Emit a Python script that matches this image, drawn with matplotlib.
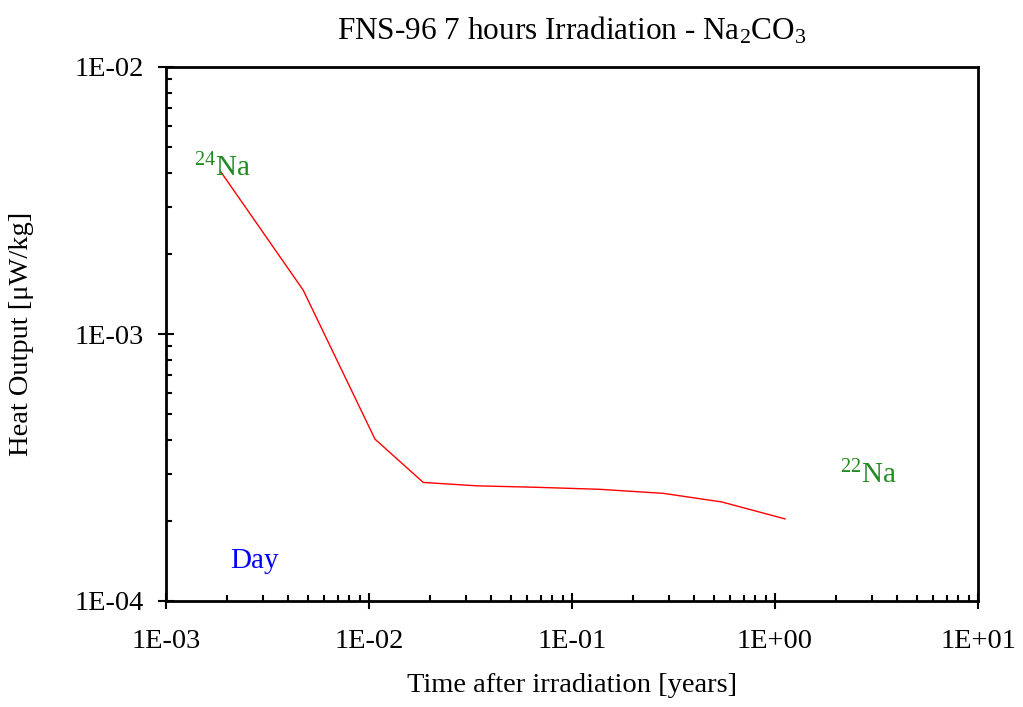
import matplotlib
matplotlib.use("Agg")
import matplotlib.pyplot as plt
from matplotlib.ticker import FixedLocator, LogLocator, NullFormatter
import numpy as np

plt.rcParams['font.family'] = ['Liberation Serif', 'DejaVu Serif']
plt.rcParams['mathtext.fontset'] = 'custom'
plt.rcParams['mathtext.rm'] = 'Liberation Serif'
plt.rcParams['mathtext.default'] = 'regular'

# data (years, uW/kg)
time_years = [1.85e-3, 4.74e-3, 1.07e-2, 1.85e-2, 3.40e-2, 6.8e-2, 0.137, 0.282, 0.546, 1.12]
heat_output = [4.08e-3, 1.46e-3, 4.04e-4, 2.78e-4, 2.70e-4, 2.665e-4, 2.62e-4, 2.53e-4, 2.35e-4, 2.03e-4]

x_ticks = [1e-3, 1e-2, 1e-1, 1e0, 1e1]
x_tick_labels = ["1E-03", "1E-02", "1E-01", "1E+00", "1E+01"]
y_ticks = [1e-4, 1e-3, 1e-2]
y_tick_labels = ["1E-04", "1E-03", "1E-02"]

fig = plt.figure(figsize=(10.23, 7.07), dpi=100)
ax = fig.add_axes([166/1023, 1-601/707, (978-166)/1023, (601-67)/707])

ax.plot(time_years, heat_output, color='red', lw=1.0)

ax.set_xscale('log')
ax.set_yscale('log')
ax.set_xlim(1e-3, 1e1)
ax.set_ylim(1e-4, 1e-2)

ax.xaxis.set_major_locator(FixedLocator(x_ticks))
ax.set_xticklabels(x_tick_labels)
ax.yaxis.set_major_locator(FixedLocator(y_ticks))
ax.set_yticklabels(y_tick_labels)
ax.xaxis.set_minor_locator(LogLocator(base=10, subs=np.arange(2, 10)))
ax.yaxis.set_minor_locator(LogLocator(base=10, subs=np.arange(2, 10)))
ax.xaxis.set_minor_formatter(NullFormatter())
ax.yaxis.set_minor_formatter(NullFormatter())

ax.tick_params(which='major', direction='inout', length=12, width=1.5, labelsize=20.5)
ax.tick_params(axis='x', which='major', pad=14)
ax.tick_params(axis='y', which='major', pad=10)
ax.tick_params(which='minor', direction='in', length=4, width=1.5)
ax.tick_params(top=False, right=False, which='both')

for s in ax.spines.values():
    s.set_linewidth(2)

ax.set_xlabel("Time after irradiation [years]", fontsize=20.5)
ax.xaxis.set_label_coords(0.5, -0.135)
ax.set_ylabel("Heat Output [\u03bcW/kg]", fontsize=20.5)
ax.yaxis.set_label_coords(-0.162, 0.5)
ax.set_title("FNS-96 7 hours Irradiation - Na$_2$CO$_3$", fontsize=22.5, pad=20)

ax.text(1.38e-3, 3.9e-3, "$^{24}$Na", color='#228B22', fontsize=21)
ax.text(2.1, 2.76e-4, "$^{22}$Na", color='#228B22', fontsize=21)
ax.text(2.07e-3, 1.33e-4, "Day", color='blue', fontsize=21)

fig.savefig("out.png", dpi=100)
